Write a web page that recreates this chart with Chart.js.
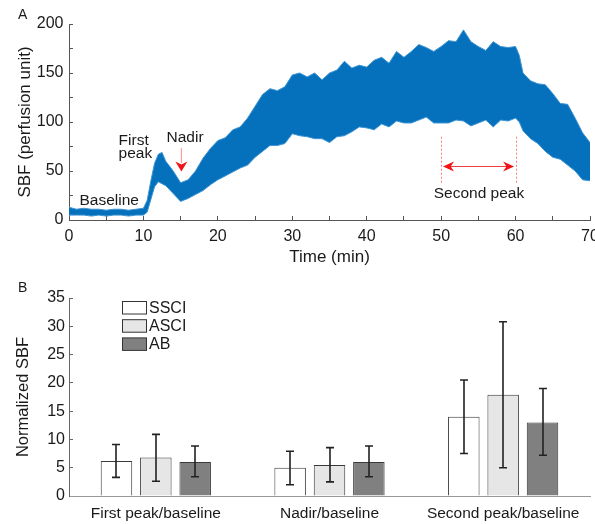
<!DOCTYPE html>
<html>
<head>
<meta charset="utf-8">
<script src="https://cdn.jsdelivr.net/npm/chart.js@4.4.1/dist/chart.umd.min.js"></script>
<style>
  body { margin: 0; background: #fff; width: 595px; height: 524px; overflow: hidden; position: relative; }
  canvas { position: absolute; left: 0; }
  #chartA { top: 0; }
  #chartB { top: 270px; }
</style>
</head>
<body>
<canvas id="chartA" width="595" height="270"></canvas>
<canvas id="chartB" width="595" height="254"></canvas>
<script>
// panel A: SBF trace, read as upper / lower envelope of the noisy signal
const times = [0, 1, 2, 3, 4, 5, 6, 7, 8, 9, 10, 10.5, 11, 11.5, 12, 12.5, 13, 13.5, 14, 15, 16, 17, 18, 19, 20,
  21, 22, 23, 24, 25, 26, 27, 28, 29, 30, 31, 32, 33, 34, 35, 36, 37, 38, 39, 40,
  41, 42, 43, 44, 45, 46, 47, 48, 49, 50, 51, 52, 53, 54, 55, 56, 57, 58, 59, 60, 60.5,
  61, 62, 63, 64, 65, 66, 67, 68, 69, 70];
const sbfUpper = [13, 11, 12, 11, 11, 10, 11, 11, 10, 11, 12, 20, 40, 58, 67, 69, 60, 55, 50, 38, 41, 50, 63, 73, 81,
  84, 92, 95, 104, 116, 128, 134, 132, 136, 148, 150, 146, 150, 143, 150, 153, 162, 155, 158, 156,
  163, 166, 160, 172, 166, 172, 179, 176, 172, 177, 183, 182, 194, 182, 177, 173, 182, 177, 176, 177, 168,
  150, 142, 139, 138, 129, 119, 118, 104, 89, 79];
const sbfLower = [5, 5, 5, 4, 5, 4, 5, 5, 4, 5, 5, 8, 21, 34, 39, 37, 35, 31, 27, 19, 22, 26, 30, 36, 41,
  45, 49, 53, 56, 64, 70, 76, 76, 78, 88, 86, 85, 83, 83, 79, 85, 86, 90, 95, 94,
  92, 98, 95, 101, 99, 99, 102, 105, 99, 99, 99, 102, 101, 96, 99, 102, 95, 102, 101, 104, 100,
  91, 83, 78, 70, 64, 62, 56, 50, 41, 40];

// panel B: normalized SBF, means and error bar ends
const categories = ['First peak/baseline', 'Nadir/baseline', 'Second peak/baseline'];
const groups = ['SSCI', 'ASCI', 'AB'];
const ssci = [6.2, 5.0, 14.0];
const ssciLo = [3.3, 2.0, 7.5];
const ssciHi = [9.1, 7.9, 20.5];
const asci = [6.8, 5.5, 17.9];
const asciLo = [2.6, 2.5, 5.0];
const asciHi = [10.9, 8.55, 30.8];
const ab = [6.0, 6.0, 13.0];
const abLo = [3.4, 3.4, 7.2];
const abHi = [8.85, 8.85, 19.0];

const fontFamily = '"Liberation Sans", Arial, Helvetica, sans-serif';
const ink = '#1a1a1a';
Chart.defaults.font.family = fontFamily;
Chart.defaults.color = ink;

const noPad = s => { s.paddingLeft = 0; s.paddingRight = 0; s.paddingTop = 0; s.paddingBottom = 0; };

function arrowHead(ctx, tipX, tipY, dirX, dirY, len, half) {
  // notched arrow head pointing along (dirX, dirY)
  const bx = tipX - dirX * len, by = tipY - dirY * len;
  const nx = -dirY, ny = dirX;
  ctx.beginPath();
  ctx.moveTo(tipX, tipY);
  ctx.lineTo(bx + nx * half, by + ny * half);
  ctx.lineTo(tipX - dirX * len * 0.7, tipY - dirY * len * 0.7);
  ctx.lineTo(bx - nx * half, by - ny * half);
  ctx.closePath();
  ctx.fill();
}

const annotateA = {
  id: 'annotateA',
  afterDatasetsDraw(chart) {
    const { ctx, scales: { x, y } } = chart;
    const px = t => x.getPixelForValue(t), py = v => y.getPixelForValue(v);
    ctx.save();
    ctx.fillStyle = ink;
    ctx.font = '15.5px ' + fontFamily;
    ctx.textAlign = 'left';
    ctx.textBaseline = 'alphabetic';
    ctx.fillText('Baseline', px(1.4), py(15.6));
    ctx.fillText('First', px(6.66), py(76.4));
    ctx.fillText('peak', px(6.66), py(63.5));
    ctx.fillText('Nadir', px(13.1), py(80));
    ctx.fillText('Second peak', px(49), py(22));

    // nadir arrow
    ctx.strokeStyle = '#ff8c8c';
    ctx.lineWidth = 1;
    ctx.beginPath();
    ctx.moveTo(px(15.1), py(73.5));
    ctx.lineTo(px(15.1), py(58));
    ctx.stroke();
    ctx.fillStyle = '#f01414';
    arrowHead(ctx, px(15.1), py(49.5), 0, 1, 10, 6);

    // second peak window
    ctx.strokeStyle = '#ff7a7a';
    ctx.setLineDash([2, 2]);
    [50, 60].forEach(t => {
      ctx.beginPath();
      ctx.moveTo(Math.round(px(t)) + 0.5, py(85));
      ctx.lineTo(Math.round(px(t)) + 0.5, py(36));
      ctx.stroke();
    });
    ctx.setLineDash([]);
    ctx.strokeStyle = '#f03c3c';
    ctx.beginPath();
    ctx.moveTo(px(50.3) + 6, py(54.6));
    ctx.lineTo(px(59.8) - 6, py(54.6));
    ctx.stroke();
    ctx.fillStyle = '#f01414';
    arrowHead(ctx, px(50.25), py(54.6), -1, 0, 11, 5);
    arrowHead(ctx, px(59.8), py(54.6), 1, 0, 11, 5);

    ctx.fillStyle = ink;
    ctx.font = '14px ' + fontFamily;
    ctx.fillText('A', 18, 18.5);
    ctx.restore();
  }
};

new Chart(document.getElementById('chartA'), {
  type: 'line',
  data: {
    datasets: [
      {
        label: 'upper',
        data: times.map((t, i) => ({ x: t, y: sbfUpper[i] })),
        borderColor: '#3d94d3',
        borderWidth: 1,
        pointRadius: 0,
        tension: 0,
        fill: false
      },
      {
        label: 'lower',
        data: times.map((t, i) => ({ x: t, y: sbfLower[i] })),
        borderColor: '#3d94d3',
        borderWidth: 1,
        backgroundColor: '#0570bb',
        pointRadius: 0,
        tension: 0,
        fill: '-1'
      }
    ]
  },
  options: {
    responsive: false,
    animation: false,
    devicePixelRatio: 1,
    layout: { padding: { top: 24, right: 5, left: 0, bottom: 0 } },
    plugins: { legend: { display: false }, tooltip: { enabled: false } },
    scales: {
      x: {
        type: 'linear', min: 0, max: 70,
        ticks: { stepSize: 5, autoSkip: false, maxRotation: 0, padding: 11, font: { size: 16 },
          callback: v => (v % 10 === 0 ? v : '') },
        grid: { drawOnChartArea: false, tickLength: -4, color: '#555' },
        border: { color: '#555' },
        title: { display: true, text: 'Time (min)', font: { size: 17 }, padding: { top: 0, bottom: 2 } },
        afterFit: s => { s.height = 50; noPad(s); }
      },
      y: {
        min: 0, max: 200,
        ticks: { stepSize: 25, padding: 9.5, font: { size: 16 },
          callback: v => (v % 50 === 0 ? v : '') },
        grid: { drawOnChartArea: false, tickLength: -4, color: '#555' },
        border: { color: '#555' },
        title: { display: true, text: 'SBF (perfusion unit)', font: { size: 17 }, padding: { top: 15, bottom: 0 } },
        afterFit: s => { s.width = 69; noPad(s); }
      }
    }
  },
  plugins: [annotateA]
});

const errorBars = {
  id: 'errorBars',
  afterDatasetsDraw(chart) {
    const { ctx, scales: { y } } = chart;
    ctx.save();
    ctx.strokeStyle = '#222';
    ctx.lineWidth = 1.6;
    chart.data.datasets.forEach((ds, di) => {
      chart.getDatasetMeta(di).data.forEach((bar, i) => {
        const yl = y.getPixelForValue(ds.errLo[i]);
        const yh = y.getPixelForValue(ds.errHi[i]);
        const bx = Math.round(bar.x);
        ctx.beginPath();
        ctx.moveTo(bx, yl); ctx.lineTo(bx, yh);
        ctx.moveTo(bx - 4, yl); ctx.lineTo(bx + 4, yl);
        ctx.moveTo(bx - 4, yh); ctx.lineTo(bx + 4, yh);
        ctx.stroke();
      });
    });
    ctx.restore();
  }
};

const legendB = {
  id: 'legendB',
  afterDraw(chart) {
    const { ctx } = chart;
    ctx.save();
    ctx.font = '16px ' + fontFamily;
    ctx.textAlign = 'left';
    ctx.textBaseline = 'middle';
    chart.data.datasets.forEach((ds, i) => {
      const top = 31.5 + i * 18.2;
      ctx.fillStyle = ds.backgroundColor;
      ctx.fillRect(122.5, top, 24, 12.5);
      ctx.strokeStyle = '#333';
      ctx.lineWidth = 1;
      ctx.strokeRect(122.5, top, 24, 12.5);
      ctx.fillStyle = ink;
      ctx.fillText(ds.label, 149, top + 6.8);
    });
    ctx.font = '14px ' + fontFamily;
    ctx.textBaseline = 'alphabetic';
    ctx.fillText('B', 18, 22);
    ctx.restore();
  }
};

const barStyle = { borderColor: '#3a3a3a', borderWidth: 1, categoryPercentage: 0.68, barPercentage: 0.8 };

new Chart(document.getElementById('chartB'), {
  type: 'bar',
  data: {
    labels: categories,
    datasets: [
      { label: groups[0], data: ssci, errLo: ssciLo, errHi: ssciHi, backgroundColor: '#ffffff', ...barStyle },
      { label: groups[1], data: asci, errLo: asciLo, errHi: asciHi, backgroundColor: '#e6e6e6', ...barStyle },
      { label: groups[2], data: ab, errLo: abLo, errHi: abHi, backgroundColor: '#808080', ...barStyle }
    ]
  },
  options: {
    responsive: false,
    animation: false,
    devicePixelRatio: 1,
    layout: { padding: { top: 28, right: 5, left: 0, bottom: 0 } },
    plugins: { legend: { display: false }, tooltip: { enabled: false } },
    scales: {
      x: {
        ticks: { padding: 8, font: { size: 15.5 }, maxRotation: 0 },
        grid: { display: false, drawTicks: false },
        border: { color: '#999' },
        afterFit: s => { s.height = 28; noPad(s); }
      },
      y: {
        min: 0, max: 35,
        ticks: { stepSize: 5, padding: 8, font: { size: 16 } },
        grid: { drawOnChartArea: false, tickLength: -4, color: '#666' },
        border: { color: '#666' },
        title: { display: true, text: 'Normalized SBF', font: { size: 16.5 }, padding: { top: 14, bottom: 0 } },
        afterFit: s => { s.width = 69; noPad(s); }
      }
    }
  },
  plugins: [errorBars, legendB]
});
</script>
</body>
</html>
